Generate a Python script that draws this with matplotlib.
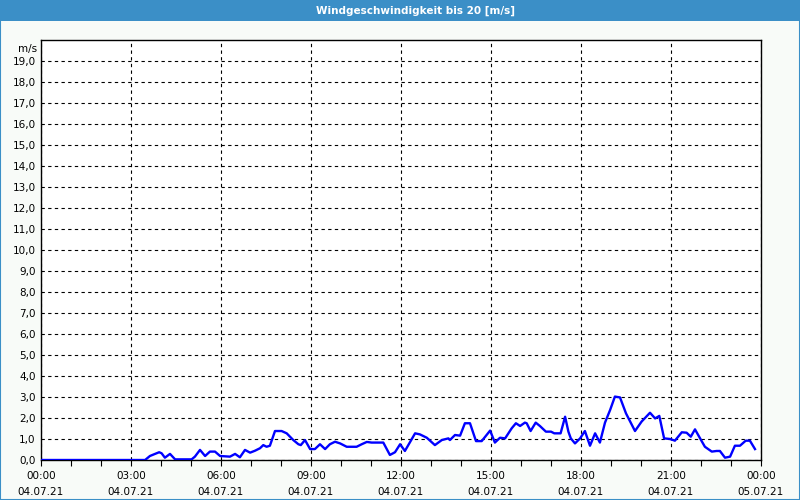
import matplotlib.pyplot as plt
from matplotlib.patches import Rectangle

# wind speed readings, hours since 04.07.21 00:00
hours = [0.0, 3.47, 3.63, 3.8, 3.94, 4.02, 4.13, 4.3, 4.47, 5.02, 5.13, 5.3, 5.47,
         5.63, 5.8, 5.97, 6.3, 6.47, 6.63, 6.8, 6.97, 7.13, 7.3, 7.41, 7.52, 7.63,
         7.8, 8.02, 8.19, 8.41, 8.58, 8.66, 8.8, 8.97, 9.13, 9.3, 9.47, 9.63, 9.8,
         9.97, 10.19, 10.52, 10.69, 10.86, 11.02, 11.41, 11.63, 11.8, 11.97, 12.13,
         12.47, 12.63, 12.86, 13.13, 13.36, 13.58, 13.63, 13.8, 13.97, 14.13, 14.3,
         14.5, 14.69, 14.97, 15.13, 15.3, 15.47, 15.69, 15.83, 15.97, 16.13, 16.19,
         16.32, 16.49, 16.63, 16.83, 17.0, 17.11, 17.32, 17.47, 17.58, 17.66, 17.8,
         17.97, 18.13, 18.3, 18.47, 18.63, 18.8, 18.97, 19.13, 19.3, 19.5, 19.8,
         20.02, 20.3, 20.47, 20.61, 20.77, 20.97, 21.13, 21.36, 21.52, 21.66, 21.8,
         21.97, 22.13, 22.36, 22.52, 22.63, 22.8, 22.97, 23.13, 23.3, 23.49, 23.63,
         23.8]
speed = [0.0, 0.0, 0.19, 0.29, 0.37, 0.32, 0.11, 0.29, 0.03, 0.03, 0.16, 0.48, 0.19,
         0.4, 0.4, 0.19, 0.16, 0.29, 0.13, 0.48, 0.35, 0.44, 0.56, 0.71, 0.63, 0.68,
         1.38, 1.38, 1.27, 0.95, 0.75, 0.71, 0.95, 0.52, 0.52, 0.75, 0.52, 0.75, 0.87,
         0.79, 0.63, 0.63, 0.75, 0.86, 0.83, 0.83, 0.24, 0.37, 0.75, 0.43,
         1.27, 1.22, 1.06, 0.71, 0.95, 1.03, 0.95, 1.19, 1.16, 1.75, 1.75,
         0.9, 0.9, 1.4, 0.83, 1.06, 1.03, 1.51, 1.75, 1.62, 1.78, 1.75,
         1.38, 1.78, 1.62, 1.35, 1.35, 1.27, 1.27, 2.06, 1.35, 1.03, 0.79,
         1.03, 1.38, 0.68, 1.27, 0.83, 1.78, 2.38, 3.02, 2.98, 2.22, 1.38,
         1.83, 2.25, 1.98, 2.1, 1.03, 1.0, 0.92, 1.32, 1.3, 1.11, 1.46,
         1.03, 0.63, 0.4, 0.43, 0.43, 0.11, 0.16, 0.68, 0.68, 0.92, 0.92,
         0.52]

x_ticks = [0, 3, 6, 9, 12, 15, 18, 21, 24]
x_labels = ['00:00\n04.07.21', '03:00\n04.07.21', '06:00\n04.07.21', '09:00\n04.07.21',
            '12:00\n04.07.21', '15:00\n04.07.21', '18:00\n04.07.21', '21:00\n04.07.21',
            '00:00\n05.07.21']
y_ticks = list(range(20))
y_labels = ['%d,0' % v for v in y_ticks]

bg = '#f8fbf8'
bar = '#3b8fc7'

fig = plt.figure(figsize=(8, 5), dpi=100, facecolor=bg)

# title bar and outer border
fig.patches.append(Rectangle((0, 0.958), 1, 0.042, transform=fig.transFigure,
                             facecolor=bar, edgecolor='none', zorder=0))
fig.patches.append(Rectangle((0.0006, 0.001), 0.9988, 0.998, transform=fig.transFigure,
                             facecolor='none', edgecolor=bar, linewidth=1.5, zorder=5))
fig.text(0.519, 0.979, 'Windgeschwindigkeit bis 20 [m/s]', color='white',
         fontsize=7.5, fontweight='bold', ha='center', va='center')

ax = fig.add_axes([0.05125, 0.08, 0.9, 0.84])
ax.set_facecolor('white')
ax.plot(hours, speed, color='#0000ff', linewidth=1.7, zorder=3)

ax.set_xlim(0, 24)
ax.set_ylim(0, 20)
ax.set_xticks(x_ticks)
ax.set_xticklabels(x_labels, fontsize=7.5, linespacing=1.7)
ax.set_xticks(range(25), minor=True)
ax.set_yticks(y_ticks)
ax.set_yticklabels(y_labels, fontsize=7.5)
ax.tick_params(axis='x', which='both', direction='out', length=4, width=0.8, pad=4)
ax.tick_params(axis='y', length=0, pad=4)

ax.grid(True, which='major', color='black', linestyle=(0, (3, 3)), linewidth=0.8)
for s in ax.spines.values():
    s.set_color('black')
    s.set_linewidth(1)

ax.text(-0.006, 0.99, 'm/s', transform=ax.transAxes, fontsize=7.5,
        ha='right', va='top')

fig.savefig('out.png', dpi=100, facecolor=bg)
